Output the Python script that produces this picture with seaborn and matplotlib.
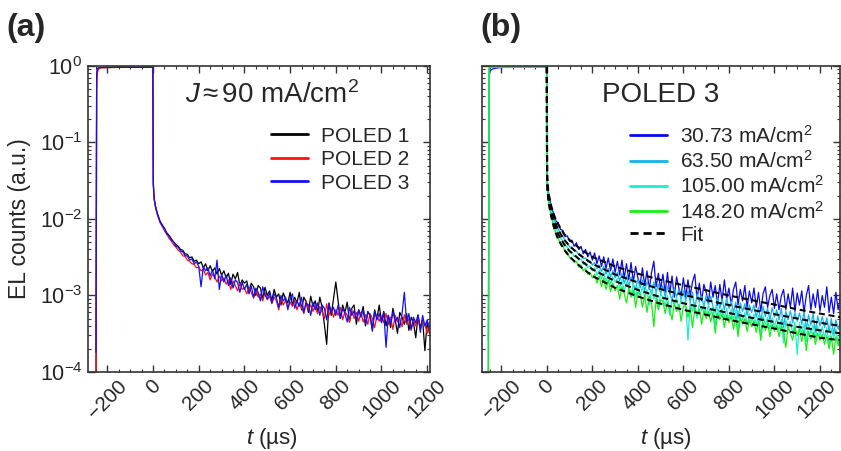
import numpy as np
import pandas as pd
import matplotlib
matplotlib.use("Agg")
import matplotlib.pyplot as plt
import matplotlib.transforms as mtransforms
import seaborn as sns
from matplotlib.ticker import LogLocator, LogFormatterMathtext, NullFormatter, FixedLocator

# ---------------- data (values in units of 1e-4) ----------------
UNIT = 1e-4

# panel (a)
t_head_a = [-250, -247, -244, -240, -230, -150, -50, -1, 1, 3, 6, 10, 15, 20, 25]
poled1_head = [0.3, 7000, 9000, 9400, 9550, 9600, 9600, 9600, 300, 220, 175, 150, 130, 115, 105]
poled2_head = [0.3, 5000, 8000, 9000, 9450, 9600, 9600, 9600, 290, 215, 170, 145, 125, 110, 100]
poled3_head = [1.8, 8000, 9200, 9450, 9550, 9600, 9600, 9600, 300, 220, 175, 150, 130, 115, 103]

TAIL_START, TAIL_STEP = 30, 10  # tail sampled every 10 us from t = 30 us

poled1_tail = [94, 84, 75, 66, 61, 55, 50, 46.5,
               44, 40, 39, 35, 34.5, 31, 32, 28, 29, 26,
               27.5, 23, 26, 21, 24.5, 20.5, 23, 19, 22.5, 18.5,
               21, 17, 19.5, 14, 19, 16.5, 20, 13.5, 16, 14.5,
               15.5, 11.5, 14.5, 13, 10, 13.5, 12.5, 9, 12.8, 10,
               11.5, 8.5, 12, 9.5, 10.5, 7.5, 10.8, 9, 8, 11,
               7.5, 9.5, 8, 11, 6.5, 9.5, 8.3, 6, 9.8, 7.2,
               8.5, 6, 9.5, 7, 4.2, 2.3, 8, 5.5, 9, 15,
               8.5, 5, 7.5, 6, 8.2, 4.5, 6.8, 7.5, 4.2, 6.5,
               5.5, 7.2, 4, 6.2, 5.5, 3.6, 6.5, 5, 7.5, 4.5,
               6.2, 4, 5.5, 3.8, 6.8, 4.8, 3.2, 6, 5.2, 4.2,
               5.8, 3.5, 5.2, 4.4, 2.8, 5.5, 3.8, 4.8, 1.9, 4.5, 3.2]
poled2_tail = [90, 80, 70, 63, 56, 51.5, 46, 43,
               39, 37, 33, 32.5, 29, 28, 26, 25.5, 23, 23.5,
               21, 22, 18.5, 20, 16, 19, 17.5, 15, 18, 15.5,
               17, 14, 16, 12, 15.5, 13.5, 11.5, 14.5, 12, 12.5,
               10.5, 12.5, 11, 9.2, 12, 9.5, 10.5, 8.5, 11, 8.8,
               9.8, 7.8, 9.5, 8.5, 6.5, 9.2, 7.5, 8.6, 7, 8.2,
               7.2, 8.8, 6.5, 8, 7, 5.8, 8.5, 6.5, 7.5, 6.2,
               7.5, 5.8, 7.2, 6.2, 5, 7.8, 5.5, 6.8, 5.2, 6.5,
               5.5, 7, 4.8, 6.2, 5.5, 4.5, 6.5, 5, 6, 4.6,
               6, 4.5, 5.6, 4.2, 5.8, 5, 3.8, 5.5, 4.6, 5.4,
               4.4, 5.8, 4.2, 5.2, 3.6, 5.5, 4.5, 5, 3.9, 5.6,
               4.2, 5, 3.5, 4.8, 4, 5.2, 3.6, 4.6, 4.2, 3.2, 4.4]
poled3_tail = [93, 82, 75, 64, 60, 53, 50, 44,
               43, 38, 37.5, 33, 33, 29, 30, 26, 27.5, 24,
               13, 24, 21, 23, 18, 21.5, 16.5, 29, 12, 19,
               15, 18.5, 13.5, 17, 12.5, 16, 14.8, 11, 15, 12,
               14, 10.5, 13.2, 9.5, 12.5, 11, 8.5, 13, 10.2, 9,
               11, 8, 10.5, 9.3, 7, 10, 8.5, 9.5, 6.5, 9,
               10.5, 6.8, 8.5, 7.2, 9.5, 6, 8, 7.5, 5.5, 8.2,
               6.5, 8, 5.5, 7.5, 6.8, 4.8, 7.8, 6, 7, 5.5,
               7.5, 5, 6.8, 5.8, 4.5, 7, 5.5, 6.3, 4.8, 6.5,
               5.2, 6.5, 4.2, 6, 5.5, 3.4, 6.2, 4.8, 5.8, 4.4,
               6, 2.1, 5.5, 4.2, 6.2, 4.5, 5.2, 3.8, 5.8, 11,
               4.5, 5.8, 3.6, 5.2, 4.4, 5.6, 3.3, 5.5, 4, 4.8, 3.6]

# panel (b)
t_head_b = [-257, -254, -252, -249, -245, -235, -220, -200, -150, -50, -1, 1, 3, 6, 10, 15, 20, 25]
j30_head = [0.5, 5500, 7800, 8600, 8900, 9200, 9400, 9550, 9650, 9650, 9650, 400, 300, 240, 200, 170, 145, 128]
j63_head = [2.6, 8800, 9400, 9600, 9650, 9650, 9650, 9650, 9650, 9650, 9650, 350, 270, 215, 180, 152, 130, 115]
j105_head = [0.5, 9200, 9600, 9650, 9650, 9650, 9650, 9650, 9650, 9650, 9650, 320, 250, 200, 165, 140, 118, 104]
j148_head = [0.3, 9400, 9650, 9650, 9650, 9650, 9650, 9650, 9650, 9650, 9650, 300, 230, 185, 150, 125, 105, 92]

j30_tail = [120, 94, 89, 73, 71, 59, 60, 51,
            53, 44, 49, 40, 44, 35, 40, 32, 37, 29,
            36, 26, 33, 24, 32, 22.5, 31, 21, 30, 20,
            28, 18.5, 29, 17, 26, 16, 27, 15, 24, 17,
            14, 23, 13.5, 21, 12, 20, 28, 13, 19.5, 12,
            19, 11, 20, 10.5, 18, 9.5, 17.5, 12.5, 10, 17,
            9.5, 16, 10, 15, 19, 9, 14.5, 8.5, 14, 11,
            8, 15, 9.5, 13.5, 7.5, 14, 8.5, 16, 9, 12.5,
            7.5, 12, 15, 7.5, 12, 8.5, 13.5, 7, 11.5, 8,
            12.5, 7, 11, 6.2, 10.5, 13, 7, 10, 12, 6.8,
            10.5, 6.5, 9.8, 12, 6.5, 10.5, 7, 12.5, 6.2, 10.8,
            7.5, 11.5, 6, 10, 13.5, 6.5, 10.5, 7, 12, 6.2,
            10, 7, 13, 6, 9.5, 5.8, 11, 6.5, 9.5]
j63_tail = [105, 86, 74, 64, 60, 52, 49.5, 43,
            43, 38.5, 38, 34, 34, 30.5, 31, 27.5, 28, 25,
            27, 22.5, 25, 20.5, 24, 19, 22.5, 17.5, 21, 17,
            20, 15.5, 19.5, 14.5, 18, 13, 17.5, 14, 12, 16.5,
            12.5, 16, 11.5, 15, 12.5, 10.5, 15, 11, 14, 10.5,
            13.5, 9.5, 13, 11, 8.5, 12.5, 9.5, 12, 8.8, 11.5,
            8.5, 11.5, 8.2, 11, 6.5, 10.5, 8.2, 9.8, 7.2, 10,
            7.5, 9.8, 7.2, 6, 9.5, 6.8, 9, 6.5, 9.2, 6.8,
            8.5, 6, 8.2, 5, 8, 6.2, 7.8, 5.5, 7.5, 6,
            7.5, 5.2, 7, 4.6, 7.2, 5.3, 6.8, 4.8, 6.9, 5.2,
            6.5, 4.8, 6.8, 3.8, 6.2, 4.8, 6.3, 4.4, 6, 4.6,
            5.9, 4.2, 6.2, 3.6, 5.6, 4.1, 5.8, 3.3, 5.4, 4,
            5.3, 3.8, 5.1, 3.4, 5, 3.1, 4.8, 3.6, 4.6]
j105_tail = [93, 76, 65, 56, 52, 45, 43, 37,
             37, 32.5, 33, 29, 30, 25.5, 27, 23, 24.5, 21,
             23, 18.5, 21.5, 16.5, 20, 15, 19, 14, 17.5, 15,
             16.5, 12.5, 16, 11.5, 15, 13, 10, 14.5, 9.5, 13,
             10, 13, 9.5, 12, 7.5, 11.8, 9, 11, 7.2, 10.5,
             9.5, 7.2, 10, 5.5, 9.2, 7.5, 9.5, 6.5, 9, 7.8,
             8.5, 2.6, 8.3, 6.2, 8, 5, 7.8, 6.3, 7.5, 5.8,
             7.5, 5.6, 7.2, 4, 7, 5.4, 6.8, 5, 6.8, 4.6,
             6.6, 4.8, 6.4, 3.4, 6.2, 4.8, 6, 4.2, 5.8, 4.5,
             5.7, 4.1, 5.5, 3, 5.4, 4.2, 5.2, 3.6, 5.1, 3.9,
             5, 3.5, 4.9, 2.4, 4.8, 3.6, 4.6, 3.2, 4.5, 1.7,
             4.4, 3.1, 4.3, 2.5, 4.2, 3.2, 4.1, 2.7, 4, 3,
             3.9, 2.8, 3.8, 2.3, 3.7, 2.8, 3.6, 2.4, 3.5]
j148_tail = [81, 64, 56, 47, 45, 38, 37, 31,
             31, 27, 28, 23.5, 25, 21, 22.5, 19, 20, 17,
             19, 14.5, 18, 13, 17, 12, 16, 11.2, 14.5, 11.5,
             13.5, 9, 13, 10.5, 8, 12.5, 9.5, 11.8, 7, 11,
             10.5, 7, 10.2, 6, 9.8, 8, 3.9, 9.2, 6.5, 8.8,
             8.4, 5.8, 8.2, 6.5, 4.8, 8, 6.2, 7.6, 4.6, 7.3,
             7.2, 5.2, 7, 3.8, 6.8, 5.5, 6.6, 4.2, 6.5, 5,
             6.2, 4.5, 6, 3.2, 5.9, 4.8, 5.8, 3.8, 5.6, 4.4,
             5.4, 3.6, 5.3, 2.9, 5.1, 4.2, 5, 3.4, 4.8, 3.9,
             4.7, 3.3, 4.6, 2.6, 4.5, 3.5, 4.4, 2.9, 4.2, 3.4,
             4.1, 2.9, 4, 3.3, 2.1, 3.9, 3.2, 2.6, 3.8, 3,
             3.6, 2.5, 3.5, 1.9, 3.4, 2.7, 3.3, 2.3, 3.2, 2.6,
             3.1, 2.3, 3, 2, 2.9, 1.7, 2.9, 2.2, 2.8]

fit_t = [0, 1, 3, 6, 10, 15, 20, 30, 40, 50, 75, 100, 150, 200, 300, 400, 500,
         600, 700, 800, 900, 1000, 1100, 1200, 1290]
fit_j30 = [9650, 400, 300, 240, 200, 170, 145, 115, 97, 85, 64, 53, 40, 32, 24, 19.3, 16,
           13.6, 11.7, 10, 8.7, 7.6, 6.6, 5.8, 5.2]
fit_j63 = [9650, 350, 270, 215, 180, 152, 130, 102, 84, 72, 54, 44, 33, 26, 18.8, 14.8, 12.1,
           10.2, 8.7, 7.5, 6.5, 5.7, 5.0, 4.4, 4.0]
fit_j105 = [9650, 320, 250, 200, 165, 140, 118, 91, 74, 63, 47, 38, 28.5, 22, 15.4, 11.8, 9.5,
            7.9, 6.8, 5.9, 5.1, 4.5, 3.9, 3.5, 3.2]
fit_j148 = [9650, 300, 230, 185, 150, 125, 105, 80, 64, 54, 40, 32, 23.5, 18, 12.6, 9.7, 7.8,
            6.5, 5.6, 4.8, 4.2, 3.7, 3.2, 2.8, 2.6]

labels_a = ["POLED 1", "POLED 2", "POLED 3"]
colors_a = ["#000000", "#ff1010", "#1010ff"]
labels_b = ["30.73 mA/cm$^2$", "63.50 mA/cm$^2$", "105.00 mA/cm$^2$", "148.20 mA/cm$^2$"]
colors_b = ["#0a0aee", "#10b4f0", "#18f0cc", "#14f014"]

x_ticks = [-200, 0, 200, 400, 600, 800, 1000, 1200]
x_tick_labels = ["\u2212200", "0", "200", "400", "600", "800", "1000", "1200"]


def series(head_t, head, tail):
    t = list(head_t) + list(TAIL_START + TAIL_STEP * np.arange(len(tail)))
    y = np.array(list(head) + list(tail), dtype=float) * UNIT
    return pd.DataFrame({"t": t, "y": y})


# ---------------- style ----------------
sns.set_theme(style="ticks")
plt.rcParams["font.family"] = ["Liberation Sans", "DejaVu Sans"]
plt.rcParams["mathtext.fontset"] = "custom"
plt.rcParams["mathtext.rm"] = "Liberation Sans"
plt.rcParams["mathtext.it"] = "Liberation Sans:italic"
plt.rcParams["mathtext.bf"] = "Liberation Sans:bold"
plt.rcParams["axes.unicode_minus"] = True

SPINE = "#333333"
fig = plt.figure(figsize=(8.41, 4.51), dpi=100)
ax_a = fig.add_axes([0.1046, 0.1752, 0.4066, 0.6785])
ax_b = fig.add_axes([0.5731, 0.1752, 0.4257, 0.6785])


def style_axes(ax, xmax, xlabel_x, ylabels=True):
    ax.set_yscale("log")
    ax.set_ylim(1e-4, 1.0)
    ax.set_xlim(-285, xmax)
    ax.xaxis.set_major_locator(FixedLocator(x_ticks))
    ax.set_xticks(x_ticks)
    ax.set_xticklabels(x_tick_labels, rotation=45, ha="center")
    ax.xaxis.set_minor_locator(FixedLocator(list(range(-250, int(xmax) + 1, 50))))
    ax.yaxis.set_major_locator(LogLocator(base=10, numticks=10))
    ax.yaxis.set_minor_locator(LogLocator(base=10, subs=np.arange(2, 10), numticks=20))
    ax.yaxis.set_major_formatter(LogFormatterMathtext())
    ax.yaxis.set_minor_formatter(NullFormatter())
    ax.tick_params(which="both", direction="in", top=True, right=True, color=SPINE,
                   labelsize=15.5, pad=4)
    ax.tick_params(which="major", length=5, width=1)
    ax.tick_params(which="minor", length=2.5, width=0.8)
    ax.tick_params(axis="x", pad=3, labelsize=14.8)
    if not ylabels:
        ax.tick_params(labelleft=False)
    for s in ax.spines.values():
        s.set_color(SPINE)
        s.set_linewidth(1.2)
    ax.set_xlabel(r"$t$ (µs)", fontsize=16)
    ax.xaxis.label.set_va("center")
    ax.xaxis.set_label_coords(xlabel_x, -0.216)
    ax.set_ylabel("")


# panel (a)
for head, tail, lab, col in zip([poled1_head, poled2_head, poled3_head],
                                [poled1_tail, poled2_tail, poled3_tail], labels_a, colors_a):
    df = series(t_head_a, head, tail)
    sns.lineplot(data=df, x="t", y="y", ax=ax_a, color=col, lw=0.9, label=lab,
                 estimator=None, sort=False)
style_axes(ax_a, 1212, 0.538)
ax_a.set_ylabel("EL counts (a.u.)", fontsize=16.5, labelpad=6)
leg = ax_a.legend(loc="upper left", bbox_to_anchor=(0.534, 0.802), frameon=False,
                  fontsize=15, handlelength=1.8, handletextpad=0.6, labelspacing=0.22,
                  borderpad=0, borderaxespad=0)
for h in leg.get_lines():
    h.set_linewidth(2.0)
ax_a.text(0.285, 0.905, r"$J$$\,$≈$\,$90 mA/cm$^2$", transform=ax_a.transAxes,
          fontsize=20, ha="left", va="center")

# panel (b)
for head, tail, lab, col in zip([j30_head, j63_head, j105_head, j148_head],
                                [j30_tail, j63_tail, j105_tail, j148_tail], labels_b, colors_b):
    df = series(t_head_b, head, tail)
    sns.lineplot(data=df, x="t", y="y", ax=ax_b, color=col, lw=0.9, label=lab,
                 estimator=None, sort=False)
for i, fit in enumerate([fit_j30, fit_j63, fit_j105, fit_j148]):
    dff = pd.DataFrame({"t": fit_t, "y": np.array(fit, dtype=float) * UNIT})
    sns.lineplot(data=dff, x="t", y="y", ax=ax_b, color="black", lw=1.5,
                 linestyle=(0, (2.9, 1.8)), label="Fit" if i == 0 else "_nolegend_",
                 estimator=None, sort=False, zorder=5)
style_axes(ax_b, 1288, 0.514, ylabels=False)
# nudge the last tick label of panel (b) slightly left so it stays inside the figure
last_lab = ax_b.get_xticklabels()[-1]
last_lab.set_transform(last_lab.get_transform() +
                       mtransforms.ScaledTranslation(-3 / 100, 0, fig.dpi_scale_trans))
leg = ax_b.legend(loc="upper left", bbox_to_anchor=(0.413, 0.808), frameon=False,
                  fontsize=15, handlelength=1.8, handletextpad=0.6, labelspacing=0.16,
                  borderpad=0, borderaxespad=0)
for h in leg.get_lines():
    h.set_linewidth(2.0)
ax_b.text(0.335, 0.905, "POLED 3", transform=ax_b.transAxes,
          fontsize=20, ha="left", va="center")

fig.text(0.008, 0.938, "(a)", fontsize=23, fontweight="bold", ha="left", va="center")
fig.text(0.571, 0.938, "(b)", fontsize=23, fontweight="bold", ha="left", va="center")

fig.savefig("out.png", dpi=100)
